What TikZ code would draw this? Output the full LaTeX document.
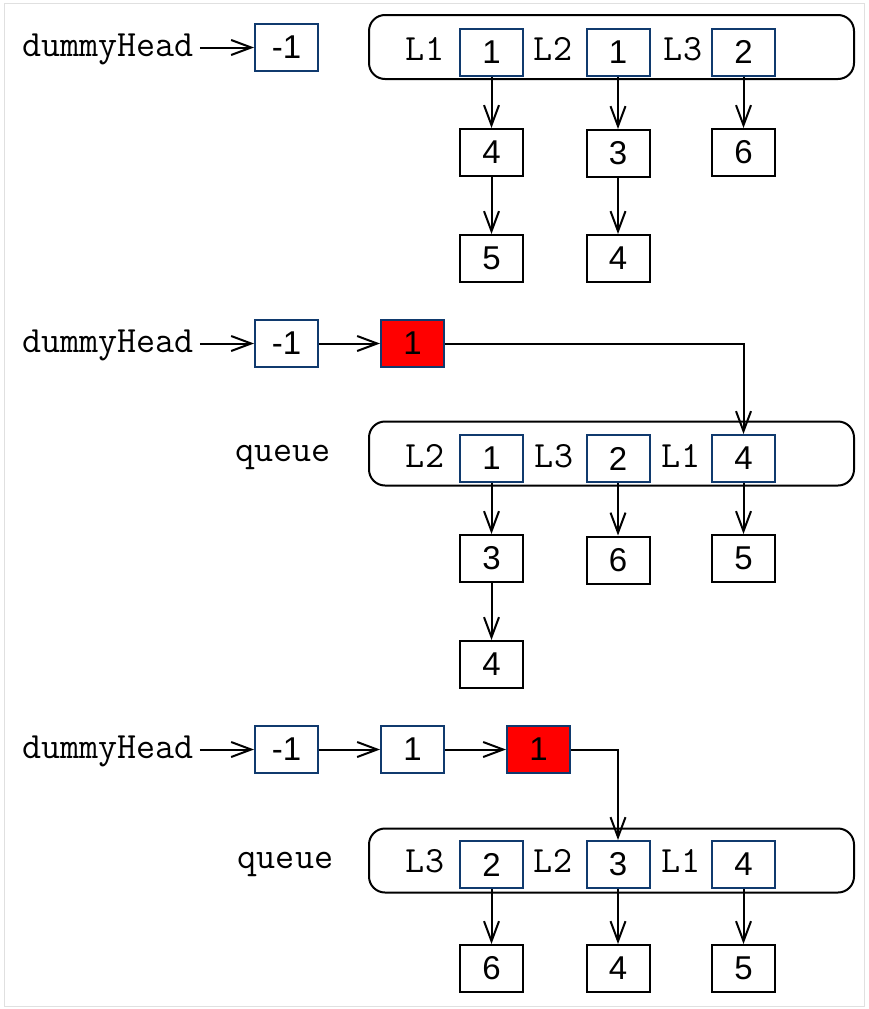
\documentclass[tikz,border=0pt]{standalone}
\usepackage{fontspec}
\setmainfont{Liberation Sans}
\usetikzlibrary{arrows.meta}

\definecolor{cellblue}{RGB}{16,58,110}
\definecolor{hotred}{RGB}{255,0,0}
\newcommand\cellfont{\fontsize{33}{40}\selectfont}
\newcommand\codefont{\ttfamily\fontsize{37}{44}\selectfont}

\tikzset{
    cell/.style={draw=cellblue, line width=2pt, minimum width=63pt, minimum height=47pt, inner sep=0pt, font=\cellfont},
    item/.style={cell, draw=black},
    hot/.style={cell, fill=hotred},
    code/.style={font=\codefont, inner sep=6pt, anchor=base},
    queuebox/.style={draw, line width=2pt, rounded corners=16pt, minimum width=485pt, minimum height=64pt},
    link/.style={line width=2pt, -{Straight Barb[length=20pt,width=15pt]}},
}

\begin{document}
\begin{tikzpicture}[x=1pt, y=-1pt]
        \useasboundingbox (0,0) rectangle (868,1009);
        \draw[black!12, line width=1pt] (4,3) rectangle (864,1006);

        % first state: three lists
        \node[code] (dh1) at (108,56) {dummyHead};
        \node[cell] (h1) at (286.5,47.5) {-1};
        \draw[link] (dh1.east |- h1) -- (h1);
        \node[queuebox] (q1) at (611.5,47) {};
        \foreach \lab/\val/\lx/\x [count=\c] in {L1/1/425/491.5, L2/1/553/618, L3/2/683/743.5} {
            \node[code] (a-l\c) at (\lx,60) {\lab};
            \node[cell] (a\c) at (\x,52) {\val};
        }
        \node[item] (a1b) at (491.5,152.5) {4};
        \node[item] (a1c) at (491.5,258.5) {5};
        \node[item] (a2b) at (618,153.5) {3};
        \node[item] (a2c) at (618,258.5) {4};
        \node[item] (a3b) at (743.5,152.5) {6};
        \draw[link] (a1) -- (a1b);
        \draw[link] (a1b) -- (a1c);
        \draw[link] (a2) -- (a2b);
        \draw[link] (a2b) -- (a2c);
        \draw[link] (a3) -- (a3b);

        % second state: one node taken
        \node[code] (dh2) at (108,352) {dummyHead};
        \node[cell] (h2) at (286.5,343.5) {-1};
        \node[hot] (r2) at (412.5,343.5) {1};
        \draw[link] (dh2.east |- h2) -- (h2);
        \draw[link] (h2) -- (r2);
        \node[code] (qn2) at (283,461) {queue};
        \node[queuebox] (q2) at (611.5,453.5) {};
        \foreach \lab/\val/\lx/\x [count=\c] in {L2/1/425/491.5, L3/2/554/618, L1/4/681/743.5} {
            \node[code] (b-l\c) at (\lx,467) {\lab};
            \node[cell] (b\c) at (\x,458.5) {\val};
        }
        \node[item] (b1b) at (491.5,558.5) {3};
        \node[item] (b1c) at (491.5,664.5) {4};
        \node[item] (b2b) at (618,560) {6};
        \node[item] (b3b) at (743.5,558.5) {5};
        \draw[link] (r2.east) -| (b3.north);
        \draw[link] (b1) -- (b1b);
        \draw[link] (b1b) -- (b1c);
        \draw[link] (b2) -- (b2b);
        \draw[link] (b3) -- (b3b);

        % third state: two nodes taken
        \node[code] (dh3) at (108,758) {dummyHead};
        \node[cell] (h3) at (286.5,749.5) {-1};
        \node[cell] (n3) at (412.5,749.5) {1};
        \node[hot] (r3) at (538.5,749.5) {1};
        \draw[link] (dh3.east |- h3) -- (h3);
        \draw[link] (h3) -- (n3);
        \draw[link] (n3) -- (r3);
        \node[code] (qn3) at (285.5,868) {queue};
        \node[queuebox] (q3) at (611.5,860.5) {};
        \foreach \lab/\val/\lx/\x [count=\c] in {L3/2/425/491.5, L2/3/553/618, L1/4/681/743.5} {
            \node[code] (c-l\c) at (\lx,872) {\lab};
            \node[cell] (c\c) at (\x,864.5) {\val};
        }
        \node[item] (c1b) at (491.5,968.5) {6};
        \node[item] (c2b) at (618,968.5) {4};
        \node[item] (c3b) at (743.5,968.5) {5};
        \draw[link] (r3.east) -| (c2.north);
        \draw[link] (c1) -- (c1b);
        \draw[link] (c2) -- (c2b);
        \draw[link] (c3) -- (c3b);
    \end{tikzpicture}
\end{document}
